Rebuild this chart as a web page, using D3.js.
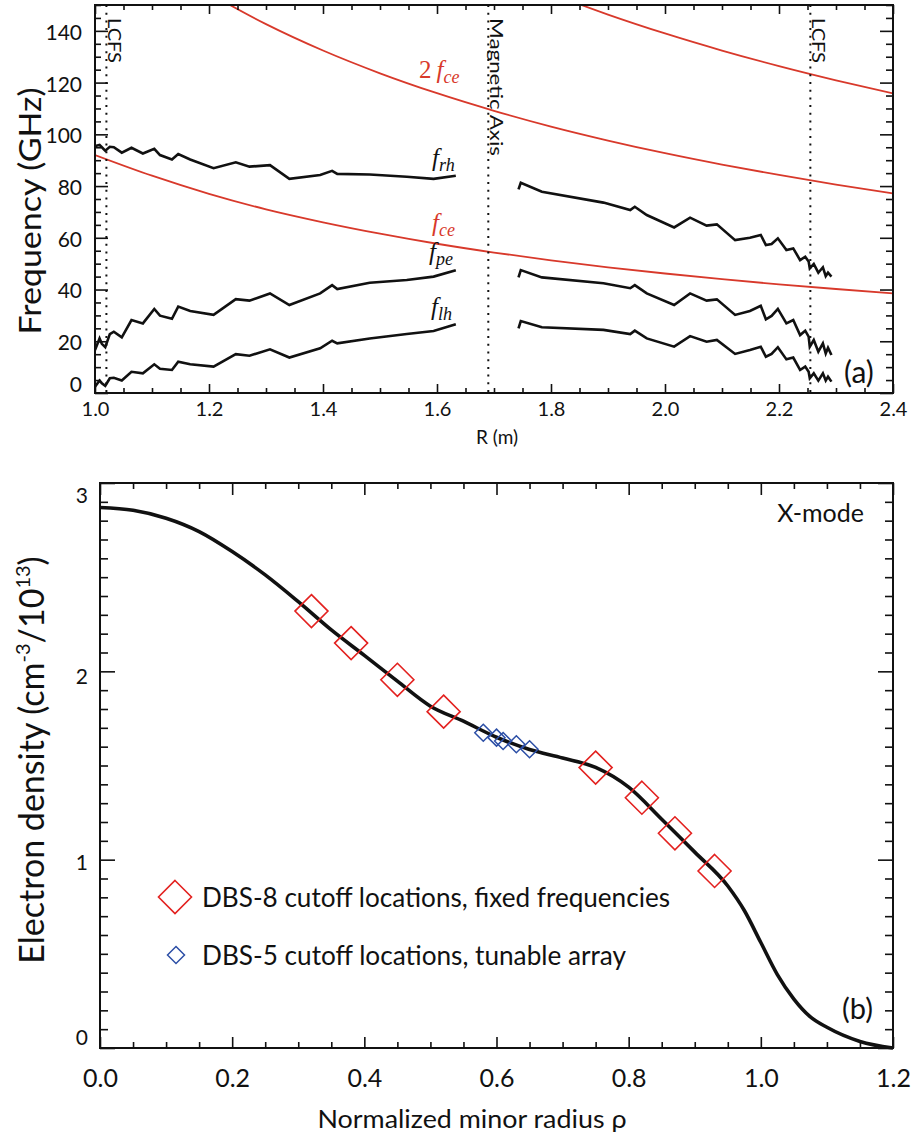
<!DOCTYPE html>
<html>
<head>
<meta charset="utf-8">
<script src="https://cdn.jsdelivr.net/npm/d3@7"></script>
<style>
body { margin: 0; background: #fff; }
svg text { font-family: Lato, "Open Sans", sans-serif; fill: #111; }
</style>
</head>
<body>
<svg id="fig" width="913" height="1142"></svg>
<script>
// ---------- panel (a) data : frequencies vs R ----------
// black curves, inboard piece
const rLeft = [1.000, 1.008, 1.012, 1.018, 1.026, 1.033, 1.047, 1.064, 1.084, 1.104, 1.114, 1.135, 1.146,
               1.167, 1.208, 1.247, 1.271, 1.307, 1.341, 1.395, 1.416, 1.425, 1.482, 1.547, 1.594, 1.633]
const fRhLeft = [95.5, 95.9, 95.0, 93.7, 95.2, 95.0, 92.9, 94.8, 92.6, 94.4, 92.0, 90.3, 92.4,
                 90.3, 86.9, 89.2, 87.5, 88.1, 82.8, 84.3, 85.9, 84.7, 84.5, 83.6, 82.8, 84.0]
const fPeLeft = [16.6, 21.1, 19.0, 17.7, 22.8, 23.7, 21.5, 28.2, 26.9, 32.5, 29.9, 28.7, 33.4,
                 31.7, 30.2, 36.3, 35.7, 38.5, 34.0, 38.5, 41.7, 40.2, 42.6, 43.7, 45.0, 47.5]
const fLhLeft = [2.4, 4.8, 3.8, 2.8, 5.7, 5.9, 4.8, 8.2, 7.6, 11.1, 9.4, 8.9, 12.1,
                 11.1, 10.2, 15.0, 14.4, 16.9, 13.7, 17.3, 20.2, 19.2, 21.1, 22.8, 24.0, 26.6]
// black curves, outboard piece
const rRight = [1.743, 1.747, 1.784, 1.892, 1.939, 1.947, 1.968, 2.016, 2.044, 2.073, 2.091, 2.123, 2.149, 2.168, 2.177,
                2.187, 2.198, 2.213, 2.225, 2.237, 2.246, 2.252, 2.254, 2.261, 2.269, 2.277, 2.282, 2.286, 2.292]
const fRhRight = [78.7, 81.3, 77.8, 73.6, 70.7, 72.0, 68.8, 64.0, 67.8, 64.7, 65.2, 59.1, 60.0, 61.1, 57.2,
                  57.6, 59.8, 55.3, 55.9, 51.4, 52.7, 50.8, 48.2, 49.9, 46.5, 48.6, 45.2, 46.5, 45.0]
const fPeRight = [44.7, 47.5, 44.7, 42.4, 40.5, 41.7, 38.5, 34.0, 38.5, 35.7, 36.2, 30.2, 31.7, 33.7, 28.5,
                  29.8, 32.5, 26.9, 28.2, 22.4, 24.1, 21.8, 17.9, 20.5, 16.0, 19.2, 15.3, 17.5, 14.7]
const fLhRight = [25.0, 27.8, 25.4, 24.4, 22.8, 24.1, 21.1, 17.9, 22.0, 19.8, 20.5, 15.1, 16.6, 17.9, 14.0,
                  15.1, 17.7, 13.0, 13.7, 8.9, 10.2, 8.2, 5.7, 7.6, 4.8, 7.6, 4.8, 6.3, 4.4]
// red cyclotron harmonics
const rCe = [1.0, 1.1, 1.2, 1.3, 1.4, 1.5, 1.6, 1.7, 1.8, 1.9, 2.0, 2.1, 2.2, 2.3, 2.4]
const fCe = [92.0, 84.0, 77.0, 71.0, 66.0, 61.6, 57.7, 54.3, 51.3, 48.6, 46.2, 44.0, 42.0, 40.2, 38.5]
const r2Ce = [1.2, 1.3, 1.4, 1.5, 1.6, 1.7, 1.8, 1.9, 2.0, 2.1, 2.2, 2.3, 2.4]
const f2Ce = [154.5, 142.6, 132.4, 123.6, 115.9, 109.1, 103.0, 97.6, 92.7, 88.3, 84.3, 80.6, 77.2]
const r3Ce = [1.8, 1.9, 2.0, 2.1, 2.2, 2.3, 2.4]
const f3Ce = [154.4, 146.3, 139.0, 132.4, 126.4, 120.9, 115.8]
// vertical markers
const markerR = [1.02, 1.69, 2.255]
const markerText = ["LCFS", "Magnetic Axis", "LCFS"]
const markerLen = [45, 138, 45]

const rMajor = [1.0, 1.2, 1.4, 1.6, 1.8, 2.0, 2.2, 2.4]
const fMajor = [0, 20, 40, 60, 80, 100, 120, 140]

// ---------- panel (b) data : density profile ----------
const rho = [0, 0.05, 0.1, 0.15, 0.2, 0.25, 0.3, 0.35, 0.4, 0.45, 0.5, 0.55, 0.6, 0.65, 0.7, 0.75,
             0.8, 0.85, 0.9, 0.95, 0.975, 1.0, 1.025, 1.05, 1.075, 1.1, 1.15, 1.2]
const ne = [2.87, 2.855, 2.813, 2.742, 2.636, 2.512, 2.37, 2.22, 2.085, 1.948, 1.815, 1.735, 1.65, 1.585, 1.54, 1.49,
            1.385, 1.215, 1.04, 0.86, 0.73, 0.56, 0.39, 0.26, 0.165, 0.11, 0.035, 0.0]
const dbs8Rho = [0.32, 0.38, 0.45, 0.52, 0.75, 0.82, 0.87, 0.93]
const dbs8Ne = [2.32, 2.15, 1.955, 1.786, 1.489, 1.329, 1.14, 0.94]
const dbs5Rho = [0.58, 0.60, 0.61, 0.63, 0.65]
const dbs5Ne = [1.674, 1.648, 1.630, 1.613, 1.586]
const rhoMajor = [0, 0.2, 0.4, 0.6, 0.8, 1.0, 1.2]
const neMajor = [0, 1, 2, 3]

const legendText = ["DBS-8 cutoff locations, fixed frequencies", "DBS-5 cutoff locations, tunable array"]

const RED = "#d8392b", DRED = "#e3211f", BLUE = "#2c4fa6", INK = "#111"

let svg = d3.select("#fig")

// draws one side of tick marks (inward), labels optional
function ticks(axisFn, scale, pos, vals, size, fmt, pad, fs) {
    let ax = axisFn(scale).tickValues(vals).tickSizeInner(-size).tickSizeOuter(0)
    if (fmt) ax.tickFormat(fmt).tickPadding(pad)
    else ax.tickFormat("")
    let g = svg.append("g").attr("transform", pos).call(ax)
    g.select(".domain").remove()
    g.attr("font-family", null).attr("font-size", null)
    g.selectAll("line").attr("stroke", INK).attr("stroke-width", 1.6)
    g.selectAll("text").attr("font-size", fs).attr("fill", INK)
    return g
}

function minorOf(lo, hi, step, major) {
    let n = Math.round((hi - lo) / step)
    return d3.range(n + 1).map(i => +(lo + i * step).toFixed(3))
        .filter(v => !major.some(m => Math.abs(m - v) < 1e-6))
}

function diamond(h) {
    return `M0,${-h}L${h},0L0,${h}L${-h},0Z`
}

// ================= panel (a) =================
let A = {l: 95, r: 893, t: 5, b: 393}
let xa = d3.scaleLinear().domain([1.0, 2.4]).range([A.l, A.r])
let ya = d3.scaleLinear().domain([0, 150]).range([A.b, A.t])

svg.append("clipPath").attr("id", "clipA").append("rect")
    .attr("x", A.l).attr("y", A.t).attr("width", A.r - A.l).attr("height", A.b - A.t)

let gA = svg.append("g").attr("clip-path", "url(#clipA)")

let lineA = d3.line().x(d => xa(d[0])).y(d => ya(d[1]))
let smoothA = d3.line().x(d => xa(d[0])).y(d => ya(d[1])).curve(d3.curveMonotoneX)

// red harmonics
;[[rCe, fCe], [r2Ce, f2Ce], [r3Ce, f3Ce]].forEach(([r, f]) => {
    gA.append("path").datum(d3.zip(r, f)).attr("d", smoothA)
        .attr("fill", "none").attr("stroke", RED).attr("stroke-width", 1.8)
})

// black cutoff curves
;[[rLeft, fRhLeft], [rLeft, fPeLeft], [rLeft, fLhLeft],
  [rRight, fRhRight], [rRight, fPeRight], [rRight, fLhRight]].forEach(([r, f]) => {
    gA.append("path").datum(d3.zip(r, f)).attr("d", lineA)
        .attr("fill", "none").attr("stroke", INK).attr("stroke-width", 2.6)
        .attr("stroke-linejoin", "miter")
})

// dotted LCFS / magnetic axis lines
markerR.forEach((r, i) => {
    svg.append("line").attr("x1", xa(r)).attr("x2", xa(r)).attr("y1", A.t).attr("y2", A.b)
        .attr("stroke", INK).attr("stroke-width", 2).attr("stroke-dasharray", "2,5.7")
    svg.append("text").attr("transform", `translate(${xa(r) + 2},${A.t + 13}) rotate(90)`)
        .attr("font-size", 17).attr("textLength", markerLen[i]).attr("lengthAdjust", "spacingAndGlyphs")
        .text(markerText[i])
})

// frame + ticks
ticks(d3.axisBottom, xa, `translate(0,${A.b})`, rMajor, 9, d3.format(".1f"), 9, 20)
ticks(d3.axisBottom, xa, `translate(0,${A.b})`, minorOf(1.0, 2.4, 0.05, rMajor), 5)
ticks(d3.axisTop, xa, `translate(0,${A.t})`, rMajor, 9)
ticks(d3.axisTop, xa, `translate(0,${A.t})`, minorOf(1.0, 2.4, 0.05, rMajor), 5)
let yl = ticks(d3.axisLeft, ya, `translate(${A.l},0)`, fMajor, 13, d3.format("d"), 13, 21)
yl.selectAll("text").attr("dy", d => d === 0 ? "-0.05em" : "0.4em")
ticks(d3.axisLeft, ya, `translate(${A.l},0)`, minorOf(0, 150, 5, fMajor), 6)
ticks(d3.axisRight, ya, `translate(${A.r},0)`, fMajor, 13)
ticks(d3.axisRight, ya, `translate(${A.r},0)`, minorOf(0, 150, 5, fMajor), 7)

svg.append("rect").attr("x", A.l).attr("y", A.t).attr("width", A.r - A.l).attr("height", A.b - A.t)
    .attr("fill", "none").attr("stroke", INK).attr("stroke-width", 2)

svg.append("text").attr("x", 497).attr("y", 444).attr("text-anchor", "middle")
    .attr("font-size", 19).text("R (m)")
svg.append("text").attr("transform", "translate(41,211) rotate(-90)").attr("text-anchor", "middle")
    .attr("font-size", 30).attr("textLength", 247).attr("lengthAdjust", "spacingAndGlyphs")
    .text("Frequency (GHz)")
svg.append("text").attr("x", 844).attr("y", 383).attr("font-size", 30).text("(a)")

// curve labels, LaTeX-ish
function mathLabel(x, y, pre, sub, color) {
    let t = svg.append("text").attr("x", x).attr("y", y)
        .style("font-family", "'Liberation Serif', 'DejaVu Serif', serif").style("fill", color)
        .attr("font-size", 25)
    if (pre) t.append("tspan").text(pre + "\u2009")
    t.append("tspan").attr("font-style", "italic").text("f")
    t.append("tspan").attr("font-style", "italic").attr("font-size", 18).attr("dy", 5).text(sub)
}
mathLabel(419, 78, "2", "ce", RED)
mathLabel(432, 166, null, "rh", INK)
mathLabel(432, 231, null, "ce", RED)
mathLabel(429, 260, null, "pe", INK)
mathLabel(431, 315, null, "lh", INK)

// ================= panel (b) =================
let B = {l: 100, r: 893, t: 483, b: 1048}
let xb = d3.scaleLinear().domain([0, 1.2]).range([B.l, B.r])
let yb = d3.scaleLinear().domain([0, 3]).range([B.b, B.t])

svg.append("path").datum(d3.zip(rho, ne))
    .attr("d", d3.line().x(d => xb(d[0])).y(d => yb(d[1])).curve(d3.curveMonotoneX))
    .attr("fill", "none").attr("stroke", INK).attr("stroke-width", 3.6)

svg.append("g").selectAll("path").data(d3.zip(dbs5Rho, dbs5Ne)).join("path")
    .attr("transform", d => `translate(${xb(d[0])},${yb(d[1])})`)
    .attr("d", diamond(8.5)).attr("fill", "none").attr("stroke", BLUE).attr("stroke-width", 1.5)
svg.append("g").selectAll("path").data(d3.zip(dbs8Rho, dbs8Ne)).join("path")
    .attr("transform", d => `translate(${xb(d[0])},${yb(d[1])})`)
    .attr("d", diamond(16.5)).attr("fill", "none").attr("stroke", DRED).attr("stroke-width", 1.6)

// legend
svg.append("path").attr("transform", "translate(175,897)").attr("d", diamond(16.5))
    .attr("fill", "none").attr("stroke", DRED).attr("stroke-width", 1.6)
svg.append("path").attr("transform", "translate(176,955)").attr("d", diamond(8.5))
    .attr("fill", "none").attr("stroke", BLUE).attr("stroke-width", 1.5)
svg.append("text").attr("x", 202).attr("y", 907).attr("font-size", 26)
    .attr("textLength", 468).attr("lengthAdjust", "spacingAndGlyphs").text(legendText[0])
svg.append("text").attr("x", 202).attr("y", 965).attr("font-size", 26)
    .attr("textLength", 424).attr("lengthAdjust", "spacingAndGlyphs").text(legendText[1])

ticks(d3.axisBottom, xb, `translate(0,${B.b})`, rhoMajor, 11, d3.format(".1f"), 21, 25)
ticks(d3.axisBottom, xb, `translate(0,${B.b})`, minorOf(0, 1.2, 0.05, rhoMajor), 6)
ticks(d3.axisTop, xb, `translate(0,${B.t})`, rhoMajor, 12)
ticks(d3.axisTop, xb, `translate(0,${B.t})`, minorOf(0, 1.2, 0.05, rhoMajor), 6)
let ylb = ticks(d3.axisLeft, yb, `translate(${B.l},0)`, neMajor, 15, d3.format("d"), 12, 21)
ylb.selectAll("text").attr("dy", d => d === 3 ? "0.95em" : d === 0 ? "-0.15em" : d === 2 ? "0.6em" : "0.45em")
ticks(d3.axisLeft, yb, `translate(${B.l},0)`, minorOf(0, 3, 0.1, neMajor), 8)
ticks(d3.axisRight, yb, `translate(${B.r},0)`, neMajor, 15)
ticks(d3.axisRight, yb, `translate(${B.r},0)`, minorOf(0, 3, 0.1, neMajor), 8)

svg.append("rect").attr("x", B.l).attr("y", B.t).attr("width", B.r - B.l).attr("height", B.b - B.t)
    .attr("fill", "none").attr("stroke", INK).attr("stroke-width", 2)

svg.append("text").attr("x", 864).attr("y", 522).attr("text-anchor", "end")
    .attr("font-size", 25).text("X-mode")
svg.append("text").attr("x", 842).attr("y", 1019).attr("font-size", 29).text("(b)")
svg.append("text").attr("x", 472).attr("y", 1128).attr("text-anchor", "middle")
    .attr("font-size", 25).attr("textLength", 309).attr("lengthAdjust", "spacingAndGlyphs")
    .text("Normalized minor radius \u03c1")

let yt = svg.append("text").attr("transform", "translate(44,760) rotate(-90)")
    .attr("text-anchor", "middle").attr("font-size", 34)
yt.append("tspan").text("Electron density (cm")
yt.append("tspan").attr("font-size", 20).attr("dy", -14).text("-3")
yt.append("tspan").attr("dy", 14).text("/10")
yt.append("tspan").attr("font-size", 20).attr("dy", -14).text("13")
yt.append("tspan").attr("dy", 14).text(")")
</script>
</body>
</html>
